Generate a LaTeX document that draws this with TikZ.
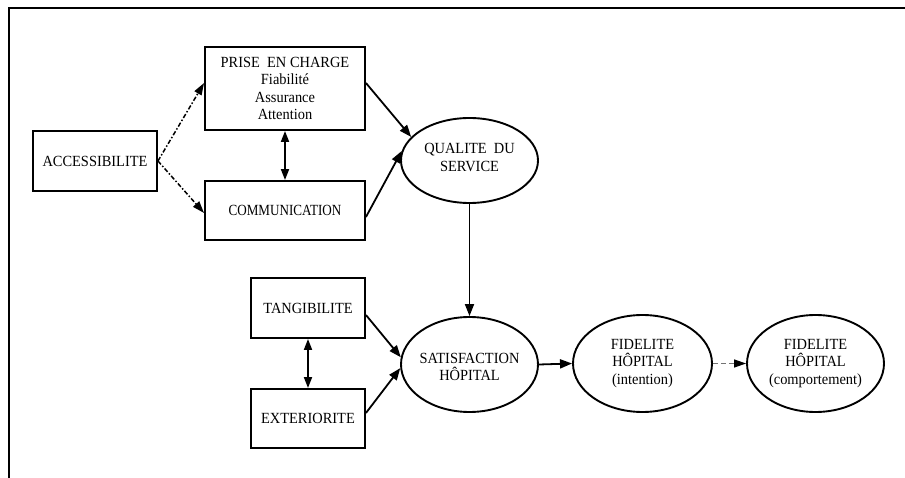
\documentclass[tikz,border=0pt]{standalone}
\usepackage{fontspec}
\setmainfont{Liberation Serif}[FakeStretch=0.93]
\newfontfamily\condfont{Liberation Serif}[FakeStretch=0.845]
\usetikzlibrary{arrows.meta,shapes.geometric}

\begin{document}
\begin{tikzpicture}[x=1pt,y=-1pt,
  txt/.style={font=\fontsize{15.5}{17.5}\selectfont, align=center},
  box/.style={draw, line width=1.9pt, rectangle, inner sep=0pt, txt},
  oval/.style={draw, line width=1.9pt, ellipse, inner sep=0pt},
  link/.style={line width=1.8pt, -{Triangle[length=12pt,width=9pt]}},
  both/.style={line width=1.8pt, {Triangle[length=11pt,width=8pt]}-{Triangle[length=11pt,width=8pt]}},
  dashlink/.style={line width=1.5pt, dash pattern=on 4.5pt off 2pt on 1.5pt off 2pt,
    -{Triangle[length=12pt,width=8pt]}},
  greydash/.style={line width=1.2pt, draw=black!55, dash pattern=on 5pt off 3pt,
    -{Triangle[length=12pt,width=8pt,color=black,fill=black]}},
]
\useasboundingbox (0,0) rectangle (905,478);

% outer frame (open towards the right and bottom)
\draw[line width=2pt] (9,478) -- (9,8) -- (905,8);

% rectangular constructs
\node[box, minimum width=124pt, minimum height=60pt] (acc) at (95,161) {ACCESSIBILITE};
\node[box, minimum width=160pt, minimum height=83pt] (prise) at (285,88.5)
  {PRISE\ \ EN CHARGE\\Fiabilité\\Assurance\\Attention};
\node[box, minimum width=160pt, minimum height=59pt] (comm) at (285,210.5) {\condfont COMMUNICATION};
\node[box, minimum width=114pt, minimum height=60pt] (tang) at (308,308) {TANGIBILITE};
\node[box, minimum width=114pt, minimum height=59pt] (ext) at (308,418.5) {EXTERIORITE};

% elliptic constructs
\node[oval, minimum width=137pt, minimum height=85pt,
  label={[txt, yshift=3pt]center:{QUALITE\ \ DU\\SERVICE}}] (qual) at (469.5,160.5) {};
\node[oval, minimum width=137pt, minimum height=95pt,
  label={[txt, yshift=-2.5pt]center:{SATISFACTION\\HÔPITAL}}] (sat) at (469.5,364.5) {};
\node[oval, minimum width=139pt, minimum height=97pt,
  label={[txt]center:{FIDELITE\\HÔPITAL\\(intention)}}] (fid1) at (642.5,363.5) {};
\node[oval, minimum width=137pt, minimum height=97pt,
  label={[txt]center:{FIDELITE\\HÔPITAL\\(comportement)}}] (fid2) at (815.5,363.5) {};

% links
\draw[dashlink] (acc.east) -- ([yshift=5.5pt]prise.west);
\draw[dashlink] (acc.east) -- ([yshift=-2.5pt]comm.west);
\draw[both] (prise.south) -- (comm.north);
\draw[link] ([yshift=5.5pt]prise.east) -- (qual.158);
\draw[link] ([yshift=-6.5pt]comm.east) -- (qual.172);
\draw[link] (qual.south) -- (sat.north);
\draw[both] (tang.south) -- (ext.north);
\draw[link] ([yshift=-7pt]tang.east) -- (sat.174);
\draw[link] ([yshift=5.5pt]ext.east) -- (sat.183);
\draw[link] (sat.east) -- (fid1.west);
\draw[greydash] (fid1.east) -- (fid2.west);
\end{tikzpicture}
\end{document}
